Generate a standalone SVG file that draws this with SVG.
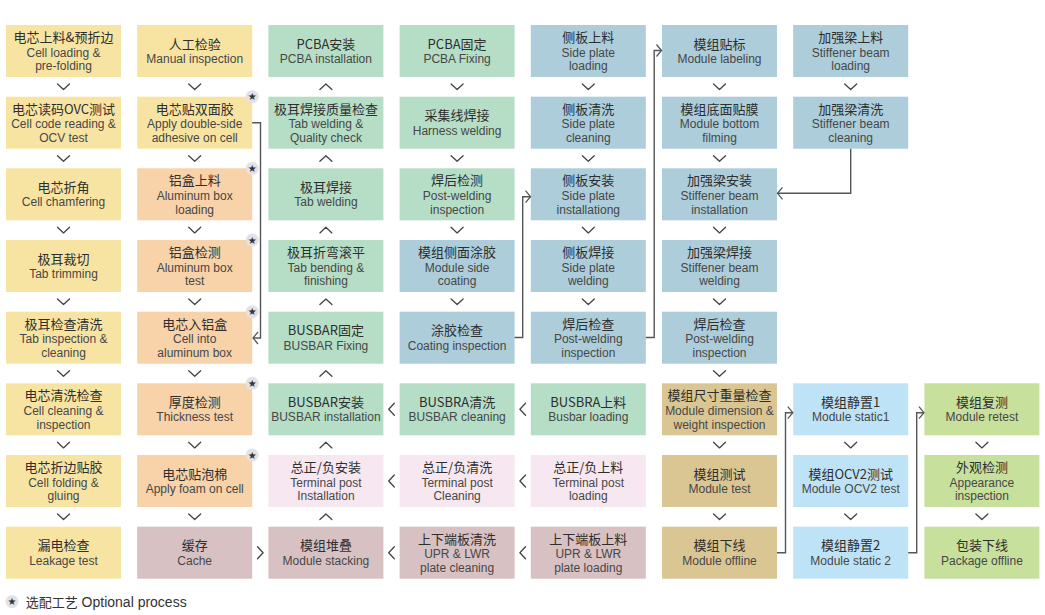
<svg xmlns="http://www.w3.org/2000/svg" width="1045" height="615" viewBox="0 0 1045 615">
<style>
rect.b{stroke:none}
.y{fill:#F8E4A2}.o{fill:#F8D2A8}.g{fill:#B6DEC6}.bl{fill:#ACCDD9}.m{fill:#D8C1C2}.p{fill:#F6E7F0}.t{fill:#DAC693}.lb{fill:#BEE3F6}.lg{fill:#C7E09C}
text{text-anchor:middle}
.cn{font-family:"Noto Sans CJK SC","Noto Sans",sans-serif;font-size:13px;font-weight:400;fill:#2e2e2e}
.en{font-family:"Liberation Sans",Arial,sans-serif;font-size:12px;fill:#474747}
.chev{fill:none;stroke:#444;stroke-width:1.3;stroke-linecap:round;stroke-linejoin:round}
.conn{fill:none;stroke:#555;stroke-width:1.4}
.badge{fill:#E3E3E7}
.star{font-family:"DejaVu Sans",sans-serif;font-size:10px;fill:#333}
</style>
<defs>
<path id="cd" class="chev" d="M-6,-2.8 L0,2.8 L6,-2.8"/>
<path id="cu" class="chev" d="M-6,2.8 L0,-2.8 L6,2.8"/>
<path id="cl" class="chev" d="M2.8,-6 L-2.8,0 L2.8,6"/>
<path id="cr" class="chev" d="M-2.8,-6 L2.8,0 L-2.8,6"/>
<marker id="ah" markerUnits="userSpaceOnUse" markerWidth="8" markerHeight="14" refX="6" refY="7" orient="auto" viewBox="0 0 8 14">
<path d="M1,1 L6,7 L1,13" fill="none" stroke="#555" stroke-width="1.3"/>
</marker>
</defs>
<rect width="1045" height="615" fill="#fff"/>

<!-- Column 1 -->
<g id="c1r1"><rect class="b y" x="6" y="25" width="115" height="52"/><text class="cn" x="63.5" y="42">电芯上料&amp;预折边</text><text class="en" x="63.5" y="56.5">Cell loading &amp;</text><text class="en" x="63.5" y="70.3">pre-folding</text></g>
<g id="c1r2"><rect class="b y" x="6" y="96.7" width="115" height="52"/><text class="cn" x="63.5" y="113.7">电芯读码OVC测试</text><text class="en" x="63.5" y="128.2">Cell code reading &amp;</text><text class="en" x="63.5" y="142">OCV test</text></g>
<g id="c1r3"><rect class="b y" x="6" y="168.3" width="115" height="52"/><text class="cn" x="63.5" y="191.8">电芯折角</text><text class="en" x="63.5" y="206.3">Cell chamfering</text></g>
<g id="c1r4"><rect class="b y" x="6" y="240" width="115" height="52"/><text class="cn" x="63.5" y="263.5">极耳裁切</text><text class="en" x="63.5" y="278">Tab trimming</text></g>
<g id="c1r5"><rect class="b y" x="6" y="311.7" width="115" height="52"/><text class="cn" x="63.5" y="328.7">极耳检查清洗</text><text class="en" x="63.5" y="343.2">Tab inspection &amp;</text><text class="en" x="63.5" y="357">cleaning</text></g>
<g id="c1r6"><rect class="b y" x="6" y="383.3" width="115" height="52"/><text class="cn" x="63.5" y="400.3">电芯清洗检查</text><text class="en" x="63.5" y="414.8">Cell cleaning &amp;</text><text class="en" x="63.5" y="428.6">inspection</text></g>
<g id="c1r7"><rect class="b y" x="6" y="455" width="115" height="52"/><text class="cn" x="63.5" y="472">电芯折边贴胶</text><text class="en" x="63.5" y="486.5">Cell folding &amp;</text><text class="en" x="63.5" y="500.3">gluing</text></g>
<g id="c1r8"><rect class="b y" x="6" y="526.7" width="115" height="52"/><text class="cn" x="63.5" y="550.2">漏电检查</text><text class="en" x="63.5" y="564.7">Leakage test</text></g>

<!-- Column 2 -->
<g id="c2r1"><rect class="b y" x="137.2" y="25" width="115" height="52"/><text class="cn" x="194.7" y="48.5">人工检验</text><text class="en" x="194.7" y="63">Manual inspection</text></g>
<g id="c2r2"><rect class="b y" x="137.2" y="96.7" width="115" height="52"/><text class="cn" x="194.7" y="113.7">电芯贴双面胶</text><text class="en" x="194.7" y="128.2">Apply double-side</text><text class="en" x="194.7" y="142">adhesive on cell</text></g>
<g id="c2r3"><rect class="b o" x="137.2" y="168.3" width="115" height="52"/><text class="cn" x="194.7" y="185.3">铝盒上料</text><text class="en" x="194.7" y="199.8">Aluminum box</text><text class="en" x="194.7" y="213.6">loading</text></g>
<g id="c2r4"><rect class="b o" x="137.2" y="240" width="115" height="52"/><text class="cn" x="194.7" y="257">铝盒检测</text><text class="en" x="194.7" y="271.5">Aluminum box</text><text class="en" x="194.7" y="285.3">test</text></g>
<g id="c2r5"><rect class="b o" x="137.2" y="311.7" width="115" height="52"/><text class="cn" x="194.7" y="328.7">电芯入铝盒</text><text class="en" x="194.7" y="343.2">Cell into</text><text class="en" x="194.7" y="357">aluminum box</text></g>
<g id="c2r6"><rect class="b o" x="137.2" y="383.3" width="115" height="52"/><text class="cn" x="194.7" y="406.8">厚度检测</text><text class="en" x="194.7" y="421.3">Thickness test</text></g>
<g id="c2r7"><rect class="b o" x="137.2" y="455" width="115" height="52"/><text class="cn" x="194.7" y="478.5">电芯贴泡棉</text><text class="en" x="194.7" y="493">Apply foam on cell</text></g>
<g id="c2r8"><rect class="b m" x="137.2" y="526.7" width="115" height="52"/><text class="cn" x="194.7" y="550.2">缓存</text><text class="en" x="194.7" y="564.7">Cache</text></g>

<!-- Column 3 -->
<g id="c3r1"><rect class="b g" x="268.4" y="25" width="115" height="52"/><text class="cn" x="325.9" y="48.5">PCBA安装</text><text class="en" x="325.9" y="63">PCBA installation</text></g>
<g id="c3r2"><rect class="b g" x="268.4" y="96.7" width="115" height="52"/><text class="cn" x="325.9" y="113.7">极耳焊接质量检查</text><text class="en" x="325.9" y="128.2">Tab welding &amp;</text><text class="en" x="325.9" y="142">Quality check</text></g>
<g id="c3r3"><rect class="b g" x="268.4" y="168.3" width="115" height="52"/><text class="cn" x="325.9" y="191.8">极耳焊接</text><text class="en" x="325.9" y="206.3">Tab welding</text></g>
<g id="c3r4"><rect class="b g" x="268.4" y="240" width="115" height="52"/><text class="cn" x="325.9" y="257">极耳折弯滚平</text><text class="en" x="325.9" y="271.5">Tab bending &amp;</text><text class="en" x="325.9" y="285.3">finishing</text></g>
<g id="c3r5"><rect class="b g" x="268.4" y="311.7" width="115" height="52"/><text class="cn" x="325.9" y="335.2">BUSBAR固定</text><text class="en" x="325.9" y="349.7">BUSBAR Fixing</text></g>
<g id="c3r6"><rect class="b g" x="268.4" y="383.3" width="115" height="52"/><text class="cn" x="325.9" y="406.8">BUSBAR安装</text><text class="en" x="325.9" y="421.3">BUSBAR installation</text></g>
<g id="c3r7"><rect class="b p" x="268.4" y="455" width="115" height="52"/><text class="cn" x="325.9" y="472">总正/负安装</text><text class="en" x="325.9" y="486.5">Terminal post</text><text class="en" x="325.9" y="500.3">Installation</text></g>
<g id="c3r8"><rect class="b m" x="268.4" y="526.7" width="115" height="52"/><text class="cn" x="325.9" y="550.2">模组堆叠</text><text class="en" x="325.9" y="564.7">Module stacking</text></g>

<!-- Column 4 -->
<g id="c4r1"><rect class="b g" x="399.6" y="25" width="115" height="52"/><text class="cn" x="457.1" y="48.5">PCBA固定</text><text class="en" x="457.1" y="63">PCBA Fixing</text></g>
<g id="c4r2"><rect class="b g" x="399.6" y="96.7" width="115" height="52"/><text class="cn" x="457.1" y="120.2">采集线焊接</text><text class="en" x="457.1" y="134.7">Harness welding</text></g>
<g id="c4r3"><rect class="b g" x="399.6" y="168.3" width="115" height="52"/><text class="cn" x="457.1" y="185.3">焊后检测</text><text class="en" x="457.1" y="199.8">Post-welding</text><text class="en" x="457.1" y="213.6">inspection</text></g>
<g id="c4r4"><rect class="b bl" x="399.6" y="240" width="115" height="52"/><text class="cn" x="457.1" y="257">模组侧面涂胶</text><text class="en" x="457.1" y="271.5">Module side</text><text class="en" x="457.1" y="285.3">coating</text></g>
<g id="c4r5"><rect class="b bl" x="399.6" y="311.7" width="115" height="52"/><text class="cn" x="457.1" y="335.2">涂胶检查</text><text class="en" x="457.1" y="349.7">Coating inspection</text></g>
<g id="c4r6"><rect class="b g" x="399.6" y="383.3" width="115" height="52"/><text class="cn" x="457.1" y="406.8">BUSBRA清洗</text><text class="en" x="457.1" y="421.3">BUSBAR cleaning</text></g>
<g id="c4r7"><rect class="b p" x="399.6" y="455" width="115" height="52"/><text class="cn" x="457.1" y="472">总正/负清洗</text><text class="en" x="457.1" y="486.5">Terminal post</text><text class="en" x="457.1" y="500.3">Cleaning</text></g>
<g id="c4r8"><rect class="b m" x="399.6" y="526.7" width="115" height="52"/><text class="cn" x="457.1" y="543.7">上下端板清洗</text><text class="en" x="457.1" y="558.2">UPR &amp; LWR</text><text class="en" x="457.1" y="572">plate cleaning</text></g>

<!-- Column 5 -->
<g id="c5r1"><rect class="b bl" x="530.8" y="25" width="115" height="52"/><text class="cn" x="588.3" y="42">侧板上料</text><text class="en" x="588.3" y="56.5">Side plate</text><text class="en" x="588.3" y="70.3">loading</text></g>
<g id="c5r2"><rect class="b bl" x="530.8" y="96.7" width="115" height="52"/><text class="cn" x="588.3" y="113.7">侧板清洗</text><text class="en" x="588.3" y="128.2">Side plate</text><text class="en" x="588.3" y="142">cleaning</text></g>
<g id="c5r3"><rect class="b bl" x="530.8" y="168.3" width="115" height="52"/><text class="cn" x="588.3" y="185.3">侧板安装</text><text class="en" x="588.3" y="199.8">Side plate</text><text class="en" x="588.3" y="213.6">installationg</text></g>
<g id="c5r4"><rect class="b bl" x="530.8" y="240" width="115" height="52"/><text class="cn" x="588.3" y="257">侧板焊接</text><text class="en" x="588.3" y="271.5">Side plate</text><text class="en" x="588.3" y="285.3">welding</text></g>
<g id="c5r5"><rect class="b bl" x="530.8" y="311.7" width="115" height="52"/><text class="cn" x="588.3" y="328.7">焊后检查</text><text class="en" x="588.3" y="343.2">Post-welding</text><text class="en" x="588.3" y="357">inspection</text></g>
<g id="c5r6"><rect class="b g" x="530.8" y="383.3" width="115" height="52"/><text class="cn" x="588.3" y="406.8">BUSBRA上料</text><text class="en" x="588.3" y="421.3">Busbar loading</text></g>
<g id="c5r7"><rect class="b p" x="530.8" y="455" width="115" height="52"/><text class="cn" x="588.3" y="472">总正/负上料</text><text class="en" x="588.3" y="486.5">Terminal post</text><text class="en" x="588.3" y="500.3">loading</text></g>
<g id="c5r8"><rect class="b m" x="530.8" y="526.7" width="115" height="52"/><text class="cn" x="588.3" y="543.7">上下端板上料</text><text class="en" x="588.3" y="558.2">UPR &amp; LWR</text><text class="en" x="588.3" y="572">plate loading</text></g>

<!-- Column 6 -->
<g id="c6r1"><rect class="b bl" x="662" y="25" width="115" height="52"/><text class="cn" x="719.5" y="48.5">模组贴标</text><text class="en" x="719.5" y="63">Module labeling</text></g>
<g id="c6r2"><rect class="b bl" x="662" y="96.7" width="115" height="52"/><text class="cn" x="719.5" y="113.7">模组底面贴膜</text><text class="en" x="719.5" y="128.2">Module bottom</text><text class="en" x="719.5" y="142">filming</text></g>
<g id="c6r3"><rect class="b bl" x="662" y="168.3" width="115" height="52"/><text class="cn" x="719.5" y="185.3">加强梁安装</text><text class="en" x="719.5" y="199.8">Stiffener beam</text><text class="en" x="719.5" y="213.6">installation</text></g>
<g id="c6r4"><rect class="b bl" x="662" y="240" width="115" height="52"/><text class="cn" x="719.5" y="257">加强梁焊接</text><text class="en" x="719.5" y="271.5">Stiffener beam</text><text class="en" x="719.5" y="285.3">welding</text></g>
<g id="c6r5"><rect class="b bl" x="662" y="311.7" width="115" height="52"/><text class="cn" x="719.5" y="328.7">焊后检查</text><text class="en" x="719.5" y="343.2">Post-welding</text><text class="en" x="719.5" y="357">inspection</text></g>
<g id="c6r6"><rect class="b t" x="662" y="383.3" width="115" height="52"/><text class="cn" x="719.5" y="400.3">模组尺寸重量检查</text><text class="en" x="719.5" y="414.8">Module dimension &amp;</text><text class="en" x="719.5" y="428.6">weight inspection</text></g>
<g id="c6r7"><rect class="b t" x="662" y="455" width="115" height="52"/><text class="cn" x="719.5" y="478.5">模组测试</text><text class="en" x="719.5" y="493">Module test</text></g>
<g id="c6r8"><rect class="b t" x="662" y="526.7" width="115" height="52"/><text class="cn" x="719.5" y="550.2">模组下线</text><text class="en" x="719.5" y="564.7">Module offline</text></g>

<!-- Column 7 -->
<g id="c7r1"><rect class="b bl" x="793.2" y="25" width="115" height="52"/><text class="cn" x="850.7" y="42">加强梁上料</text><text class="en" x="850.7" y="56.5">Stiffener beam</text><text class="en" x="850.7" y="70.3">loading</text></g>
<g id="c7r2"><rect class="b bl" x="793.2" y="96.7" width="115" height="52"/><text class="cn" x="850.7" y="113.7">加强梁清洗</text><text class="en" x="850.7" y="128.2">Stiffener beam</text><text class="en" x="850.7" y="142">cleaning</text></g>
<g id="c7r6"><rect class="b lb" x="793.2" y="383.3" width="115" height="52"/><text class="cn" x="850.7" y="406.8">模组静置1</text><text class="en" x="850.7" y="421.3">Module static1</text></g>
<g id="c7r7"><rect class="b lb" x="793.2" y="455" width="115" height="52"/><text class="cn" x="850.7" y="478.5">模组OCV2测试</text><text class="en" x="850.7" y="493">Module OCV2 test</text></g>
<g id="c7r8"><rect class="b lb" x="793.2" y="526.7" width="115" height="52"/><text class="cn" x="850.7" y="550.2">模组静置2</text><text class="en" x="850.7" y="564.7">Module static 2</text></g>

<!-- Column 8 -->
<g id="c8r6"><rect class="b lg" x="924.4" y="383.3" width="115" height="52"/><text class="cn" x="981.9" y="406.8">模组复测</text><text class="en" x="981.9" y="421.3">Module retest</text></g>
<g id="c8r7"><rect class="b lg" x="924.4" y="455" width="115" height="52"/><text class="cn" x="981.9" y="472">外观检测</text><text class="en" x="981.9" y="486.5">Appearance</text><text class="en" x="981.9" y="500.3">inspection</text></g>
<g id="c8r8"><rect class="b lg" x="924.4" y="526.7" width="115" height="52"/><text class="cn" x="981.9" y="550.2">包装下线</text><text class="en" x="981.9" y="564.7">Package offline</text></g>

<!-- Optional badges -->
<g id="badges">
<circle class="badge" cx="252.2" cy="96.7" r="6.5"/><text class="star" x="252.2" y="100.3">★</text>
<circle class="badge" cx="252.2" cy="168.3" r="6.5"/><text class="star" x="252.2" y="171.9">★</text>
<circle class="badge" cx="252.2" cy="240" r="6.5"/><text class="star" x="252.2" y="243.6">★</text>
<circle class="badge" cx="252.2" cy="311.7" r="6.5"/><text class="star" x="252.2" y="315.3">★</text>
<circle class="badge" cx="252.2" cy="383.3" r="6.5"/><text class="star" x="252.2" y="386.9">★</text>
<circle class="badge" cx="252.2" cy="455" r="6.5"/><text class="star" x="252.2" y="458.6">★</text>
</g>

<!-- Connectors -->
<g id="connectors">
<use href="#cd" x="63.5" y="86.8"/><use href="#cd" x="63.5" y="158.5"/><use href="#cd" x="63.5" y="230.1"/><use href="#cd" x="63.5" y="301.8"/><use href="#cd" x="63.5" y="373.5"/><use href="#cd" x="63.5" y="445.1"/><use href="#cd" x="63.5" y="516.8"/>
<use href="#cd" x="194.7" y="86.8"/><use href="#cd" x="194.7" y="158.5"/><use href="#cd" x="194.7" y="230.1"/><use href="#cd" x="194.7" y="301.8"/><use href="#cd" x="194.7" y="373.5"/><use href="#cd" x="194.7" y="445.1"/><use href="#cd" x="194.7" y="516.8"/>
<use href="#cu" x="325.9" y="86.8"/><use href="#cu" x="325.9" y="158.5"/><use href="#cu" x="325.9" y="230.1"/><use href="#cu" x="325.9" y="301.8"/><use href="#cu" x="325.9" y="373.5"/><use href="#cu" x="325.9" y="445.1"/><use href="#cu" x="325.9" y="516.8"/>
<use href="#cd" x="457.1" y="86.8"/><use href="#cd" x="457.1" y="158.5"/><use href="#cd" x="457.1" y="230.1"/><use href="#cd" x="457.1" y="301.8"/>
<use href="#cd" x="588.3" y="86.8"/><use href="#cd" x="588.3" y="158.5"/><use href="#cd" x="588.3" y="230.1"/><use href="#cd" x="588.3" y="301.8"/>
<use href="#cd" x="719.5" y="86.8"/><use href="#cd" x="719.5" y="158.5"/><use href="#cd" x="719.5" y="230.1"/><use href="#cd" x="719.5" y="301.8"/><use href="#cd" x="719.5" y="373.5"/><use href="#cd" x="719.5" y="445.1"/><use href="#cd" x="719.5" y="516.8"/>
<use href="#cd" x="850.7" y="86.8"/><use href="#cd" x="850.7" y="445.1"/><use href="#cd" x="850.7" y="516.8"/>
<use href="#cd" x="981.9" y="445.1"/><use href="#cd" x="981.9" y="516.8"/>
<use href="#cl" x="391.5" y="409.3"/><use href="#cl" x="522.7" y="409.3"/>
<use href="#cl" x="391.5" y="481"/><use href="#cl" x="522.7" y="481"/>
<use href="#cl" x="391.5" y="552.7"/><use href="#cl" x="522.7" y="552.7"/>
<use href="#cr" x="260.3" y="552.7"/>
<path class="conn" d="M252.2,122.7 H260.5 V338 H253" marker-end="url(#ah)"/>
<path class="conn" d="M514.6,337.5 H522.7 V196.7 H530.5" marker-end="url(#ah)"/>
<path class="conn" d="M645.8,337.5 H654.2 V50.5 H661.5" marker-end="url(#ah)"/>
<path class="conn" d="M850.7,148.7 V193.3 H777.5" marker-end="url(#ah)"/>
<path class="conn" d="M777,552.7 H785.5 V412.7 H792.8" marker-end="url(#ah)"/>
<path class="conn" d="M908.2,552.7 H916.7 V412.7 H924" marker-end="url(#ah)"/>
</g>

<!-- Legend -->
<g id="legend">
<circle class="badge" cx="12" cy="601.7" r="6.5"/><text class="star" x="12" y="605.3">★</text>
<text x="25.7" y="606.5" style="text-anchor:start"><tspan class="cn" style="font-size:13px;fill:#333">选配工艺</tspan><tspan class="en" style="font-size:14px;fill:#333"> Optional process</tspan></text>
</g>
</svg>
